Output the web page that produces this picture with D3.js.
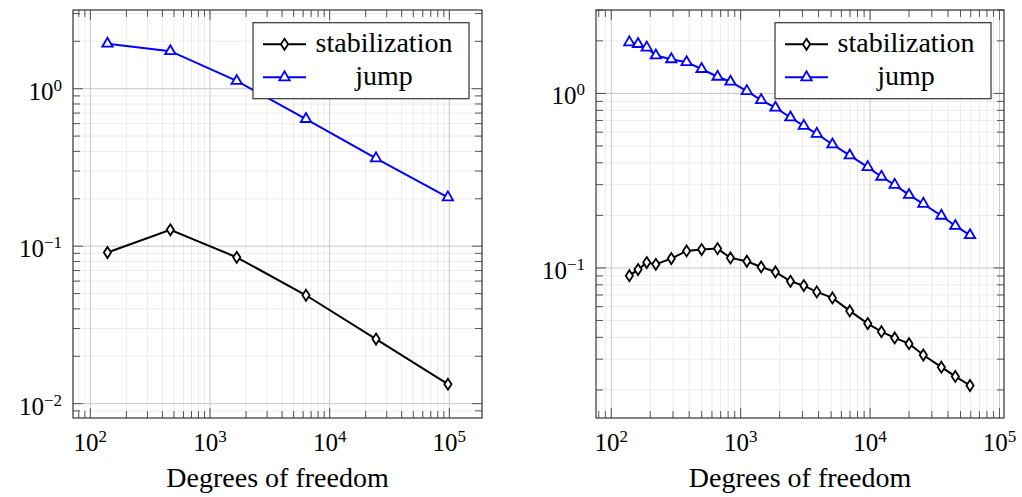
<!DOCTYPE html>
<html>
<head>
<meta charset="utf-8">
<script src="https://cdn.jsdelivr.net/npm/d3@7"></script>
<style>
  body { margin: 0; background: #fff; }
</style>
</head>
<body>
<script>
// data
var leftDofs = [139, 466, 1672, 6340, 24400, 97300];
var leftStab = [0.0912, 0.127, 0.085, 0.0488, 0.0257, 0.0133];
var leftJump = [1.93, 1.73, 1.12, 0.642, 0.361, 0.204];

var rightDofs = [138, 161, 188, 221, 291, 382, 499, 663, 834, 1116, 1440, 1857, 2425, 3075, 3875,
                 5118, 6966, 9592, 12240, 15500, 20000, 25800, 35560, 45600, 59200];
var rightStab = [0.0903, 0.0978, 0.1073, 0.1049, 0.1131, 0.1252, 0.1274, 0.129, 0.1141, 0.1092,
                 0.1013, 0.0948, 0.0838, 0.0792, 0.0729, 0.0673, 0.0567, 0.048, 0.0431, 0.0397,
                 0.0368, 0.0317, 0.027, 0.0239, 0.0212];
var rightJump = [1.96, 1.92, 1.83, 1.65, 1.57, 1.51, 1.38, 1.246, 1.167, 1.031, 0.916, 0.828,
                 0.728, 0.652, 0.587, 0.510, 0.441, 0.378, 0.333, 0.299, 0.262, 0.233, 0.199,
                 0.174, 0.154];

var seriesNames = ["stabilization", "jump"];
var xTitle = "Degrees of freedom";

var FONT = "'Liberation Serif'";

var w = 1022, h = 497;
var svg = d3.select("body").append("svg")
    .attr("width", w)
    .attr("height", h);

function sup(sel, exp) {
    sel.append("tspan").text("10");
    sel.append("tspan")
        .attr("dy", -9)
        .style("font-size", "17px")
        .text(exp < 0 ? "\u2212" + (-exp) : exp);
}

function drawPanel(box, xDom, yDom, yLabels, dofs, stab, jump) {
    var x = d3.scaleLog().domain(xDom).range([box.x0, box.x1]);
    var y = d3.scaleLog().domain(yDom).range([box.y1, box.y0]);
    var g = svg.append("g");

    var xt = x.ticks().filter(function(d) { return d > xDom[0] && d < xDom[1]; });
    var yt = y.ticks().filter(function(d) { return d > yDom[0] && d < yDom[1]; });
    var isMajor = function(d) { return Math.abs(Math.log10(d) - Math.round(Math.log10(d))) < 1e-9; };

    // minor grid first, then major on top
    g.selectAll(".gx").data(xt.filter(function(d) { return !isMajor(d); })).enter()
        .append("line")
        .attr("x1", x).attr("x2", x).attr("y1", box.y0).attr("y2", box.y1)
        .attr("stroke", "#ececec").attr("stroke-width", 1);
    g.selectAll(".gy").data(yt.filter(function(d) { return !isMajor(d); })).enter()
        .append("line")
        .attr("y1", y).attr("y2", y).attr("x1", box.x0).attr("x2", box.x1)
        .attr("stroke", "#ececec").attr("stroke-width", 1);
    g.selectAll(".gxm").data(xt.filter(isMajor)).enter()
        .append("line")
        .attr("x1", x).attr("x2", x).attr("y1", box.y0).attr("y2", box.y1)
        .attr("stroke", "#c8c8c8").attr("stroke-width", 1);
    g.selectAll(".gym").data(yt.filter(isMajor)).enter()
        .append("line")
        .attr("y1", y).attr("y2", y).attr("x1", box.x0).attr("x2", box.x1)
        .attr("stroke", "#c8c8c8").attr("stroke-width", 1);

    // inward ticks on all four sides
    xt.forEach(function(d) {
        var len = isMajor(d) ? 10 : 7;
        g.append("line").attr("x1", x(d)).attr("x2", x(d))
            .attr("y1", box.y1).attr("y2", box.y1 - len)
            .attr("stroke", "#555").attr("stroke-width", 1);
        g.append("line").attr("x1", x(d)).attr("x2", x(d))
            .attr("y1", box.y0).attr("y2", box.y0 + len)
            .attr("stroke", "#555").attr("stroke-width", 1);
    });
    yt.forEach(function(d) {
        var len = isMajor(d) ? 10 : 7;
        g.append("line").attr("y1", y(d)).attr("y2", y(d))
            .attr("x1", box.x0).attr("x2", box.x0 + len)
            .attr("stroke", "#555").attr("stroke-width", 1);
        g.append("line").attr("y1", y(d)).attr("y2", y(d))
            .attr("x1", box.x1).attr("x2", box.x1 - len)
            .attr("stroke", "#555").attr("stroke-width", 1);
    });

    // tick labels
    [2, 3, 4, 5].forEach(function(e) {
        var t = g.append("text")
            .attr("x", x(Math.pow(10, e)))
            .attr("y", 451)
            .attr("text-anchor", "middle")
            .style("font-family", FONT)
            .style("font-size", "25px");
        sup(t, e);
    });
    yLabels.forEach(function(e) {
        var t = g.append("text")
            .attr("x", box.x0 - 11)
            .attr("y", y(Math.pow(10, e)) + 11)
            .attr("text-anchor", "end")
            .style("font-family", FONT)
            .style("font-size", "25px");
        sup(t, e);
    });

    g.append("text")
        .attr("x", (box.x0 + box.x1) / 2)
        .attr("y", 487)
        .attr("text-anchor", "middle")
        .style("font-family", FONT)
        .style("font-size", "28px")
        .text(xTitle);

    // series
    var line = d3.line()
        .x(function(d) { return x(d[0]); })
        .y(function(d) { return y(d[1]); });
    var stabPts = d3.zip(dofs, stab);
    var jumpPts = d3.zip(dofs, jump);

    g.append("path").datum(stabPts).attr("d", line)
        .attr("fill", "none").attr("stroke", "#000").attr("stroke-width", 2);
    g.append("path").datum(jumpPts).attr("d", line)
        .attr("fill", "none").attr("stroke", "#0000ff").attr("stroke-width", 2);

    g.selectAll(".dia").data(stabPts).enter().append("path")
        .attr("d", "M0,-5.5L3.6,0L0,5.5L-3.6,0Z")
        .attr("transform", function(d) { return "translate(" + x(d[0]) + "," + y(d[1]) + ")"; })
        .attr("fill", "#fff").attr("stroke", "#000").attr("stroke-width", 1.8);
    g.selectAll(".tri").data(jumpPts).enter().append("path")
        .attr("d", "M0,-6L5.2,3L-5.2,3Z")
        .attr("transform", function(d) { return "translate(" + x(d[0]) + "," + y(d[1]) + ")"; })
        .attr("fill", "#fff").attr("stroke", "#0000ff").attr("stroke-width", 1.8);

    // frame
    g.append("rect")
        .attr("x", box.x0).attr("y", box.y0)
        .attr("width", box.x1 - box.x0).attr("height", box.y1 - box.y0)
        .attr("fill", "none").attr("stroke", "#333").attr("stroke-width", 1.2);

    // legend
    var lx = box.x1 - 229, ly = box.y0 + 12.7;
    var leg = g.append("g").attr("transform", "translate(" + lx + "," + ly + ")");
    leg.append("rect").attr("width", 216).attr("height", 76)
        .attr("fill", "#fff").attr("stroke", "#333").attr("stroke-width", 1.2);
    var rows = [
        { name: seriesNames[0], color: "#000", mark: "M0,-5.5L3.6,0L0,5.5L-3.6,0Z", cy: 21.6 },
        { name: seriesNames[1], color: "#0000ff", mark: "M0,-6L5.2,3L-5.2,3Z", cy: 54.6 }
    ];
    rows.forEach(function(r) {
        leg.append("line").attr("x1", 10).attr("x2", 53).attr("y1", r.cy).attr("y2", r.cy)
            .attr("stroke", r.color).attr("stroke-width", 2);
        leg.append("path").attr("d", r.mark)
            .attr("transform", "translate(31.5," + r.cy + ")")
            .attr("fill", "#fff").attr("stroke", r.color).attr("stroke-width", 1.8);
        leg.append("text")
            .attr("x", 131)
            .attr("y", r.cy + 8)
            .attr("text-anchor", "middle")
            .style("font-family", FONT)
            .style("font-size", "28px")
            .text(r.name);
    });
}

drawPanel({ x0: 73, x1: 482, y0: 10, y1: 418 },
    [Math.pow(10, 1.855), Math.pow(10, 5.273)],
    [Math.pow(10, -2.091), Math.pow(10, 0.4997)],
    [0, -1, -2],
    leftDofs, leftStab, leftJump);

drawPanel({ x0: 596, x1: 1004, y0: 10, y1: 418 },
    [Math.pow(10, 1.882), Math.pow(10, 5.035)],
    [Math.pow(10, -1.86), Math.pow(10, 0.478)],
    [0, -1],
    rightDofs, rightStab, rightJump);
</script>
</body>
</html>
